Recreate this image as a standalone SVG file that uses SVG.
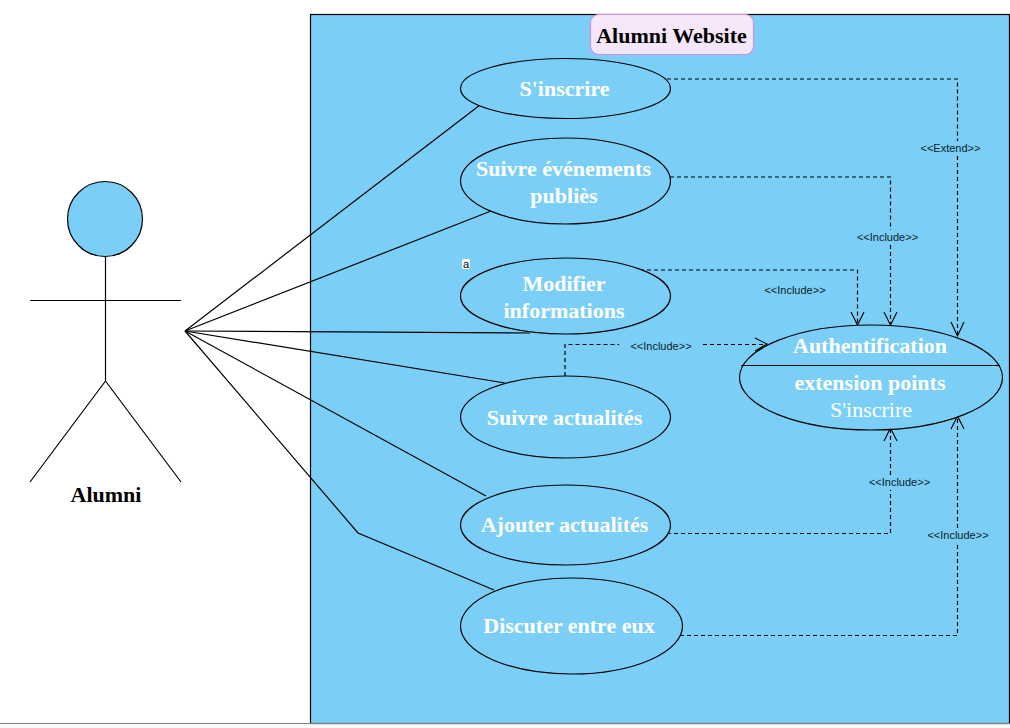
<svg xmlns="http://www.w3.org/2000/svg" width="1010" height="728" viewBox="0 0 1010 728">
<style>
.s{stroke:#000;stroke-width:1.2;fill:none}
.u{fill:#7bcff6;stroke:#000;stroke-width:1.2}
.d{fill:none;stroke:#000;stroke-width:1.2;stroke-dasharray:4 3}
.a{fill:none;stroke:#000;stroke-width:1.1}
.t{font-family:"Liberation Serif",serif;font-weight:bold;font-size:22px;fill:#fff;text-anchor:middle}
.l{font-family:"Liberation Sans",sans-serif;font-size:11px;fill:#10202a;text-anchor:middle}
.b{font-family:"Liberation Serif",serif;font-weight:bold;font-size:22px;fill:#000;text-anchor:middle}
</style>
<rect width="1010" height="728" fill="#fff"/>
<rect x="0" y="723.500" width="1010" height="4.500" fill="#f8f8f8"/>
<g id="system">
<rect x="310.500" y="14.500" width="699" height="709" fill="#7bcff6" stroke="#000" stroke-width="1.2"/>
<line x1="0" y1="723.500" x2="1010" y2="723.500" stroke="#808080" stroke-width="1"/>
<rect x="590.500" y="14.500" width="163" height="40" rx="8" fill="#f5e7f8" stroke="#d08ee0" stroke-width="1.2"/>
<text class="b" x="671.500" y="43">Alumni Website</text>
</g>
<g id="connectors">
<path class="s" d="M185 331L480 105"/>
<path class="s" d="M185 331L491 211"/>
<path class="s" d="M185 331L530 333"/>
<path class="s" d="M185 331L505 383"/>
<path class="s" d="M185 331L486 496"/>
<path class="s" d="M185 331L358 533L494 590"/>
<path class="d" d="M667 79H957.500V141M957.500 156V336"/>
<path class="d" d="M670 177H890.500V230M890.500 245V325"/>
<path class="d" d="M640 270H857.500V325"/>
<path class="d" d="M565 376V344.500H619M703 344.500H766"/>
<path class="d" d="M667 533.500H890.500V490M890.500 475V428"/>
<path class="d" d="M680 635.500H957.500V543M957.500 528V416"/>
<path class="a" d="M851 312L857.500 325L864 312"/>
<path class="a" d="M884 312L890.500 325L897 312"/>
<path class="a" d="M951 322L957.500 336L964 322"/>
<path class="a" d="M884 441L890.500 428L897 441"/>
<path class="a" d="M951 429L957.500 416L964 429"/>
<path class="a" d="M755 338L767 344L755 351"/>
<text class="l" x="950.500" y="152">&lt;&lt;Extend&gt;&gt;</text>
<text class="l" x="887.500" y="241">&lt;&lt;Include&gt;&gt;</text>
<text class="l" x="795" y="294">&lt;&lt;Include&gt;&gt;</text>
<text class="l" x="661" y="350">&lt;&lt;Include&gt;&gt;</text>
<text class="l" x="899.500" y="486">&lt;&lt;Include&gt;&gt;</text>
<text class="l" x="958" y="539">&lt;&lt;Include&gt;&gt;</text>
</g>
<g id="actor">
<circle class="u" cx="105" cy="219" r="37.500"/>
<path class="s" d="M105.500 256.500V381M30 300.500H181M105.500 381L30 482M105.500 381L181 482"/>
<text class="b" x="106" y="502">Alumni</text>
</g>
<g id="uc1"><ellipse class="u" cx="565.500" cy="88.500" rx="105" ry="30"/><text class="t" x="564.500" y="96">S'inscrire</text></g>
<g id="uc2"><ellipse class="u" cx="565.500" cy="181" rx="105" ry="43"/><text class="t" x="563.500" y="176">Suivre événements</text><text class="t" x="564" y="203">publiès</text></g>
<g id="uc3"><ellipse class="u" cx="565.500" cy="296" rx="105" ry="38"/><text class="t" x="564" y="291">Modifier</text><text class="t" x="564" y="318">informations</text><rect x="462" y="259" width="8" height="10" rx="2" fill="#fff"/><text x="466" y="267.500" font-family="Liberation Sans,sans-serif" font-size="11" text-anchor="middle">a</text></g>
<g id="uc4"><ellipse class="u" cx="565.500" cy="417" rx="105" ry="41"/><text class="t" x="564.500" y="425">Suivre actualités</text></g>
<g id="uc5"><ellipse class="u" cx="565.500" cy="525" rx="105" ry="40"/><text class="t" x="564.500" y="532">Ajouter actualités</text></g>
<g id="uc6"><ellipse class="u" cx="571.500" cy="626" rx="111" ry="48"/><text class="t" x="569" y="633">Discuter entre eux</text></g>
<g id="auth"><ellipse class="u" cx="871" cy="377.500" rx="131.500" ry="52.500"/><line x1="741" y1="365.500" x2="1000" y2="365.500" stroke="#000" stroke-width="1.2"/><text class="t" x="870" y="353">Authentification</text><text class="t" x="870" y="390">extension points</text><text x="871" y="417" font-family="Liberation Serif,serif" font-size="22" fill="#fff" text-anchor="middle">S'inscrire</text></g>
</svg>
